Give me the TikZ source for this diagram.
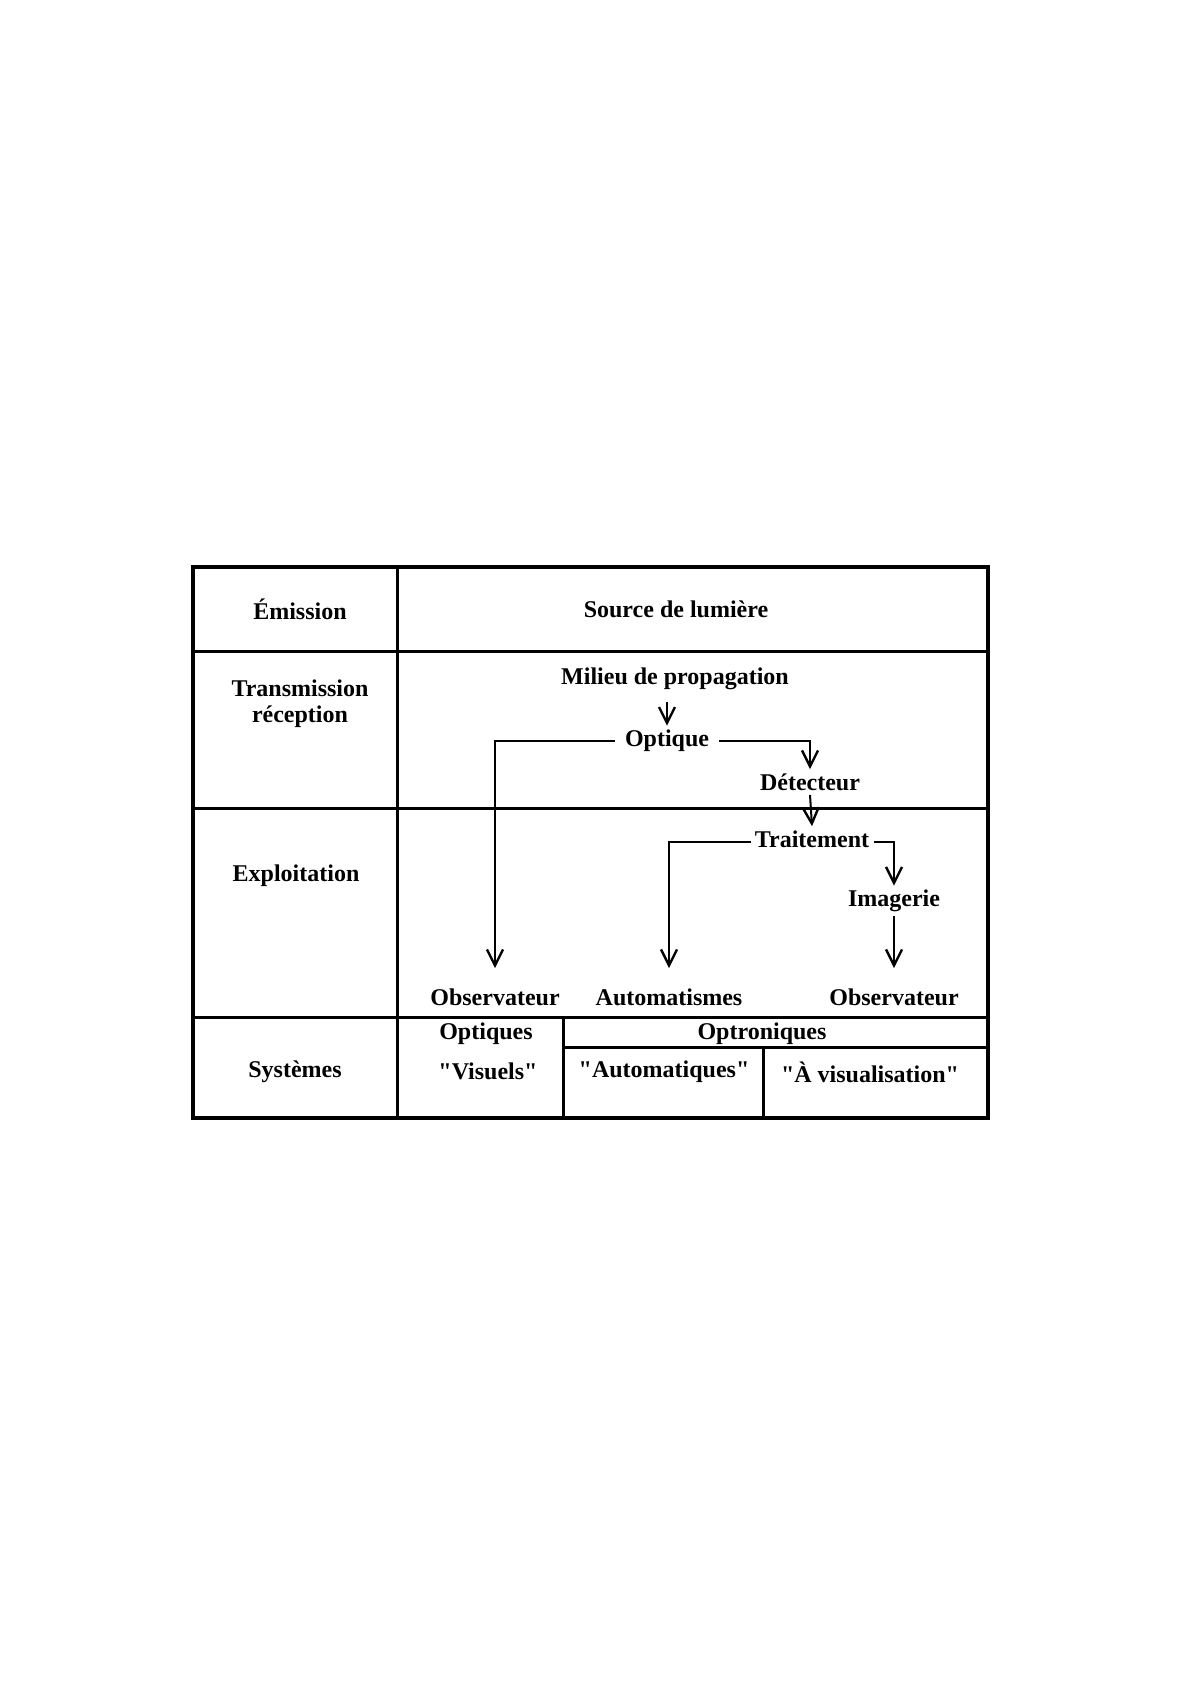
\documentclass[tikz,border=0pt]{standalone}
\usepackage{fontspec}
\setmainfont{Liberation Serif}[Ligatures=TeXOff]
\usepackage{tikz}
\usetikzlibrary{calc,arrows.meta}

\begin{document}
\begin{tikzpicture}[x=0.5pt,y=-0.5pt,
    lbl/.style={font=\bfseries\fontsize{12}{14}\selectfont, inner sep=2pt},
    fl/.style={-{Straight Barb[length=8pt,width=8pt,line width=1.2pt]}, line width=1pt},
    tobot/.style={shorten >=8pt}]
                      \useasboundingbox (0,0) rectangle (1190,1684);
                      % table
                      \draw[line width=2pt] (193,567) rectangle (988,1118);
                      \draw[line width=1.5pt] (397,567) -- (397,1118);
                      \draw[line width=1.5pt] (193,651) -- (988,651);
                      \draw[line width=1.5pt] (193,808) -- (988,808);
                      \draw[line width=1.5pt] (193,1017) -- (988,1017);
                      \draw[line width=1.5pt] (563,1047) -- (988,1047);
                      \draw[line width=1.5pt] (563,1017) -- (563,1118);
                      \draw[line width=1.5pt] (763,1047) -- (763,1118);
                      % row titles
                      \node[lbl] (emi) at (300,609) {Émission};
                      \node[lbl, align=center] (trans) at (300,704) {Transmission\\[-1pt]réception};
                      \node[lbl] (expl) at (296,876) {Exploitation};
                      \node[lbl] (sys) at (295,1072) {Systèmes};
                      % chain
                      \node[lbl] (src) at (676,609) {Source de lumière};
                      \node[lbl] (mil) at (675,679) {Milieu de propagation};
                      \node[lbl] (opt) at (667,741) {Optique};
                      \node[lbl] (det) at (810,782) {Détecteur};
                      \node[lbl] (trt) at (812,839) {Traitement};
                      \node[lbl] (img) at (894,901) {Imagerie};
                      \node[lbl] (obsa) at (495,997) {Observateur};
                      \node[lbl] (auto) at (669,997) {Automatismes};
                      \node[lbl] (obsb) at (894,997) {Observateur};
                      % systems
                      \node[lbl] (optq) at (486,1034) {Optiques};
                      \node[lbl] (vis) at (488,1071) {"Visuels"};
                      \node[lbl] (optr) at (762,1034) {Optroniques};
                      \node[lbl] (autq) at (664,1072) {"Automatiques"};
                      \node[lbl] (avis) at (870,1072) {"À visualisation"};
                      % arrows
                      \draw[fl, shorten <=4pt] (opt|-mil.south) -- (opt.north);
                      \draw[fl, tobot, shorten <=3pt] (opt.west) -| (obsa.north);
                      \draw[fl, shorten <=3pt] (opt.east) -| (det.north);
                      \draw[fl] (det.south) -- (trt.north);
                      \draw[fl, tobot] ($(trt.west)+(0,3)$) -| (auto.north);
                      \draw[fl] ($(trt.east)+(0,3)$) -| (img.north);
                      \draw[fl, tobot] (img.south) -- (obsb.north);
                  \end{tikzpicture}
\end{document}
